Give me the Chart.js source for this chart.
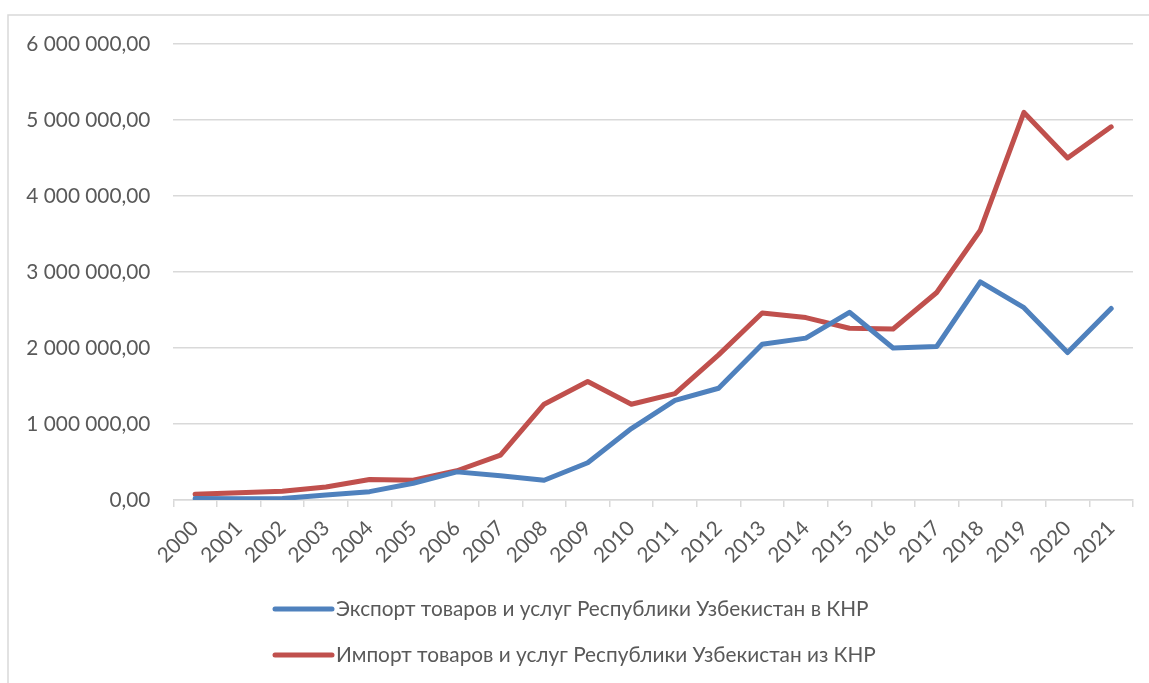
<!DOCTYPE html>
<html>
<head>
<meta charset="utf-8">
<script src="https://cdn.jsdelivr.net/npm/chart.js@4.4.1/dist/chart.umd.min.js"></script>
<style>
  html, body { margin: 0; padding: 0; background: #ffffff; }
  #wrap { position: relative; width: 1149px; height: 683px; }
</style>
</head>
<body>
<div id="wrap"><canvas id="c" width="1149" height="683"></canvas></div>
<script>
const years = ['2000','2001','2002','2003','2004','2005','2006','2007','2008','2009','2010',
               '2011','2012','2013','2014','2015','2016','2017','2018','2019','2020','2021'];
const exportValues = [20000, 18000, 20000, 65000, 110000, 220000, 370000, 320000, 260000, 490000, 940000,
                      1310000, 1470000, 2050000, 2130000, 2470000, 2000000, 2020000, 2870000, 2530000, 1940000, 2520000];
const importValues = [75000, 95000, 115000, 170000, 270000, 260000, 385000, 590000, 1260000, 1560000, 1260000,
                      1400000, 1910000, 2460000, 2400000, 2260000, 2250000, 2730000, 3550000, 5100000, 4500000, 4910000];
const yTickLabels = ['0,00','1 000 000,00','2 000 000,00','3 000 000,00','4 000 000,00','5 000 000,00','6 000 000,00'];
const seriesNames = ['Экспорт товаров и услуг Республики Узбекистан в КНР',
                     'Импорт товаров и услуг Республики Узбекистан из КНР'];

const FONT = 'Lato';
const FONT_SIZE = 20.8;
const TEXT_COLOR = '#595959';
const GRID_COLOR = '#d9d9d9';

const framePlugin = {
  id: 'frame',
  beforeDraw(chart) {
    const ctx = chart.ctx;
    ctx.save();
    ctx.fillStyle = '#ffffff';
    ctx.fillRect(0, 0, chart.width, chart.height);
    ctx.strokeStyle = GRID_COLOR;
    ctx.lineWidth = 1.5;
    ctx.beginPath();
    ctx.moveTo(8, chart.height);
    ctx.lineTo(8, 15);
    ctx.lineTo(chart.width, 15);
    ctx.stroke();
    ctx.restore();
  }
};

const stackedLegend = {
  id: 'stackedLegend',
  afterDraw(chart) {
    const ctx = chart.ctx;
    ctx.save();
    ctx.font = FONT_SIZE + 'px ' + FONT;
    ctx.textBaseline = 'middle';
    ctx.textAlign = 'left';
    chart.data.datasets.forEach((ds, i) => {
      const y = 609 + i * 46;
      ctx.strokeStyle = ds.borderColor;
      ctx.lineWidth = 5;
      ctx.lineCap = 'round';
      ctx.beginPath();
      ctx.moveTo(275, y);
      ctx.lineTo(332, y);
      ctx.stroke();
      ctx.fillStyle = TEXT_COLOR;
      ctx.fillText(ds.label, 336, y);
    });
    ctx.restore();
  }
};

new Chart(document.getElementById('c'), {
  type: 'line',
  data: {
    labels: years,
    datasets: [
      { label: seriesNames[0], data: exportValues, borderColor: '#4f81bd', backgroundColor: '#4f81bd',
        borderWidth: 5, pointRadius: 0, tension: 0, borderCapStyle: 'round', borderJoinStyle: 'round' },
      { label: seriesNames[1], data: importValues, borderColor: '#c0504d', backgroundColor: '#c0504d',
        borderWidth: 5, pointRadius: 0, tension: 0, borderCapStyle: 'round', borderJoinStyle: 'round' }
    ]
  },
  options: {
    responsive: false,
    animation: false,
    devicePixelRatio: 1,
    layout: { padding: { left: 0, right: 16, top: 44, bottom: 0 } },
    plugins: {
      legend: { display: false },
      tooltip: { enabled: false }
    },
    scales: {
      x: {
        offset: true,
        grid: { offset: true, drawOnChartArea: false, drawTicks: true, tickLength: 7, color: GRID_COLOR, lineWidth: 1.5 },
        border: { display: true, color: GRID_COLOR, width: 1.5 },
        ticks: { color: TEXT_COLOR, font: { family: FONT, size: FONT_SIZE }, minRotation: 45, maxRotation: 45, padding: 9, autoSkip: false },
        afterFit(scale) { scale.height = 183; }
      },
      y: {
        min: 0, max: 6000000,
        grid: { drawTicks: false, color: GRID_COLOR, lineWidth: 1.5 },
        border: { display: false },
        ticks: {
          stepSize: 1000000,
          color: TEXT_COLOR,
          font: { family: FONT, size: FONT_SIZE },
          padding: 23,
          callback: (v) => yTickLabels[Math.round(v / 1000000)]
        },
        afterFit(scale) { scale.width = 173.3; }
      }
    }
  },
  plugins: [framePlugin, stackedLegend]
});
</script>
</body>
</html>
